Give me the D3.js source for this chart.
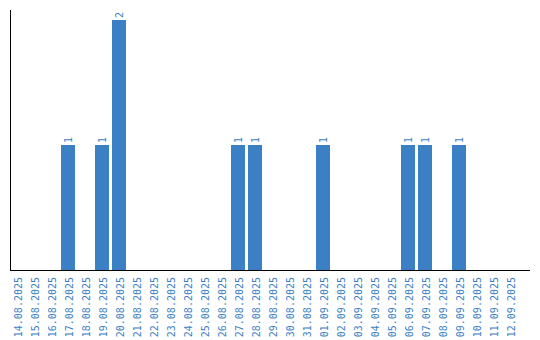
<!DOCTYPE html>
<html><head><meta charset="utf-8">
<script src="https://cdn.jsdelivr.net/npm/d3@7/dist/d3.min.js"></script>
<style>body{margin:0;background:#fff}svg{display:block}</style>
</head><body>
<svg id="c" width="540" height="340"></svg>
<script>
const dates = ["14.08.2025","15.08.2025","16.08.2025","17.08.2025","18.08.2025","19.08.2025","20.08.2025","21.08.2025","22.08.2025","23.08.2025","24.08.2025","25.08.2025","26.08.2025","27.08.2025","28.08.2025","29.08.2025","30.08.2025","31.08.2025","01.09.2025","02.09.2025","03.09.2025","04.09.2025","05.09.2025","06.09.2025","07.09.2025","08.09.2025","09.09.2025","10.09.2025","11.09.2025","12.09.2025"];
const values = [0,0,0,1,0,1,2,0,0,0,0,0,0,1,1,0,0,0,1,0,0,0,0,1,1,0,1,0,0,0];

const svg = d3.select("#c");
const color = "#3b7fc4";
const x = d3.scaleBand().domain(dates).range([10, 517]).paddingInner(3/17).paddingOuter(0);
const y = d3.scaleLinear().domain([0, 2]).range([270, 20]);

const data = dates.map((d,i)=>({d, v: values[i]}));

svg.selectAll("rect.bar").data(data.filter(e=>e.v>0)).join("rect")
  .attr("class","bar")
  .attr("x", e=>x(e.d)).attr("width", x.bandwidth())
  .attr("y", e=>y(e.v)).attr("height", e=>y(0)-y(e.v))
  .attr("fill", color);

svg.selectAll("text.val").data(data.filter(e=>e.v>0)).join("text")
  .attr("class","val")
  .attr("transform", e=>`translate(${x(e.d)+x.bandwidth()/2+4},${y(e.v)-2}) rotate(-90)`)
  .attr("font-family","DejaVu Sans Mono").attr("font-size","10px")
  .attr("fill", color)
  .text(e=>e.v);

// axes
svg.append("line").attr("x1",10.5).attr("x2",10.5).attr("y1",10).attr("y2",270.5).attr("stroke","#000").attr("stroke-width",1);
svg.append("line").attr("x1",10).attr("x2",530).attr("y1",270.5).attr("y2",270.5).attr("stroke","#000").attr("stroke-width",1);

svg.selectAll("text.tick").data(dates).join("text")
  .attr("class","tick")
  .attr("transform", d=>`translate(${x(d)+x.bandwidth()/2+4.5},${277}) rotate(-90)`)
  .attr("text-anchor","end")
  .attr("font-family","DejaVu Sans Mono").attr("font-size","10px")
  .attr("fill", color)
  .text(d=>d);
</script>
</body></html>
